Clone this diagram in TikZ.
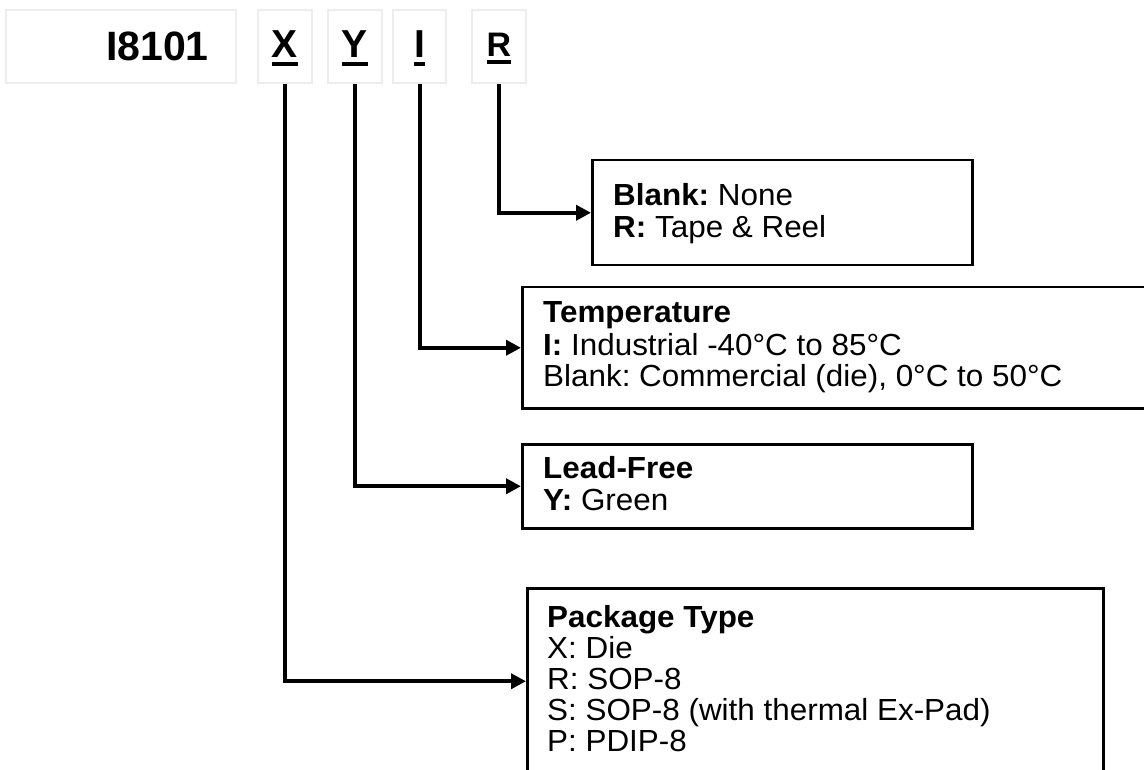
\documentclass[tikz,border=0pt]{standalone}
\usepackage{fontspec}
\setmainfont{Liberation Sans}
\newfontfamily\bodyfont[FakeStretch=1.03]{Liberation Sans}
\usetikzlibrary{arrows.meta}
\frenchspacing
\newcommand\ulbox[2]{\setbox0\hbox{#2}\rlap{\rule[-#1]{\wd0}{4pt}}\box0}
\tikzset{
  selbox/.style={draw=black!7, line width=1.5pt, minimum height=73pt, inner sep=0pt},
  infobox/.style={draw=black, line width=2.5pt, inner sep=0pt, anchor=north west},
  conn/.style={line width=4pt, -{Triangle[length=15pt,width=15pt]}},
  txt/.style={anchor=base west, inner sep=0pt, font=\bodyfont\fontsize{30.5}{31}\selectfont},
  bigsel/.style={anchor=base, inner sep=0pt, font=\bfseries\fontsize{39}{39}\selectfont},
  smallsel/.style={anchor=base, inner sep=0pt, font=\bfseries\fontsize{34}{34}\selectfont}
}
\begin{document}
\begin{tikzpicture}[x=1pt,y=-1pt]
\clip (0,0) rectangle (1144,770);
\fill[white] (0,0) rectangle (1144,770);
% part number selector boxes
\node[selbox, minimum width=230pt] (part) at (121,46.5) {};
\node[anchor=base east, inner sep=0pt, font=\bfseries\fontsize{41}{41}\selectfont] (parttxt) at (209,61) {I8101};
\node[selbox, minimum width=54pt] (xsel) at (285,46.5) {};
\node[bigsel] (xl) at (285,58) {\ulbox{8pt}{X}};
\node[selbox, minimum width=54pt] (ysel) at (355,46.5) {};
\node[bigsel] (yl) at (355,58) {\ulbox{8pt}{Y}};
\node[selbox, minimum width=53pt] (isel) at (419.5,46.5) {};
\node[bigsel] (il) at (419.5,58) {\ulbox{8pt}{I}};
\node[selbox, minimum width=54pt] (rsel) at (499,46.5) {};
\node[smallsel] (rl) at (499,57) {\ulbox{7pt}{R}};
% info boxes
\node[infobox, minimum width=380pt, minimum height=105pt] (blank) at (591,159) {};
\node[infobox, minimum width=700pt, minimum height=121pt] (temp) at (521,286) {};
\node[infobox, minimum width=450pt, minimum height=84pt] (lead) at (521,443) {};
\node[infobox, minimum width=576pt, minimum height=186pt] (pkg) at (526,587) {};
% connectors
\draw[conn] (rsel.south) |- (blank.west);
\draw[conn] (isel.south) |- (temp.west);
\draw[conn] (ysel.south) |- (lead.west);
\draw[conn] (xsel.south) |- (pkg.west);
% texts
\node[txt] (b1) at (613,206) {\bfseries Blank:\mdseries{} None};
\node[txt] (b2) at (613,238) {\bfseries R:\mdseries{} Tape \& Reel};
\node[txt] (t1) at (543,323) {\bfseries Temperature};
\node[txt] (t2) at (543,355) {\bfseries I:\mdseries{} Industrial -40°C to 85°C};
\node[txt] (t3) at (543,386) {Blank: Commercial (die), 0°C to 50°C};
\node[txt] (l1) at (543,478) {\bfseries Lead-Free};
\node[txt] (l2) at (543,510) {\bfseries Y:\mdseries{} Green};
\node[txt] (p1) at (547,627) {\bfseries Package Type};
\node[txt] (p2) at (547,658) {X: Die};
\node[txt] (p3) at (547,689) {R: SOP-8};
\node[txt] (p4) at (547,720) {S: SOP-8 (with thermal Ex-Pad)};
\node[txt] (p5) at (547,751) {P: PDIP-8};
\end{tikzpicture}
\end{document}
